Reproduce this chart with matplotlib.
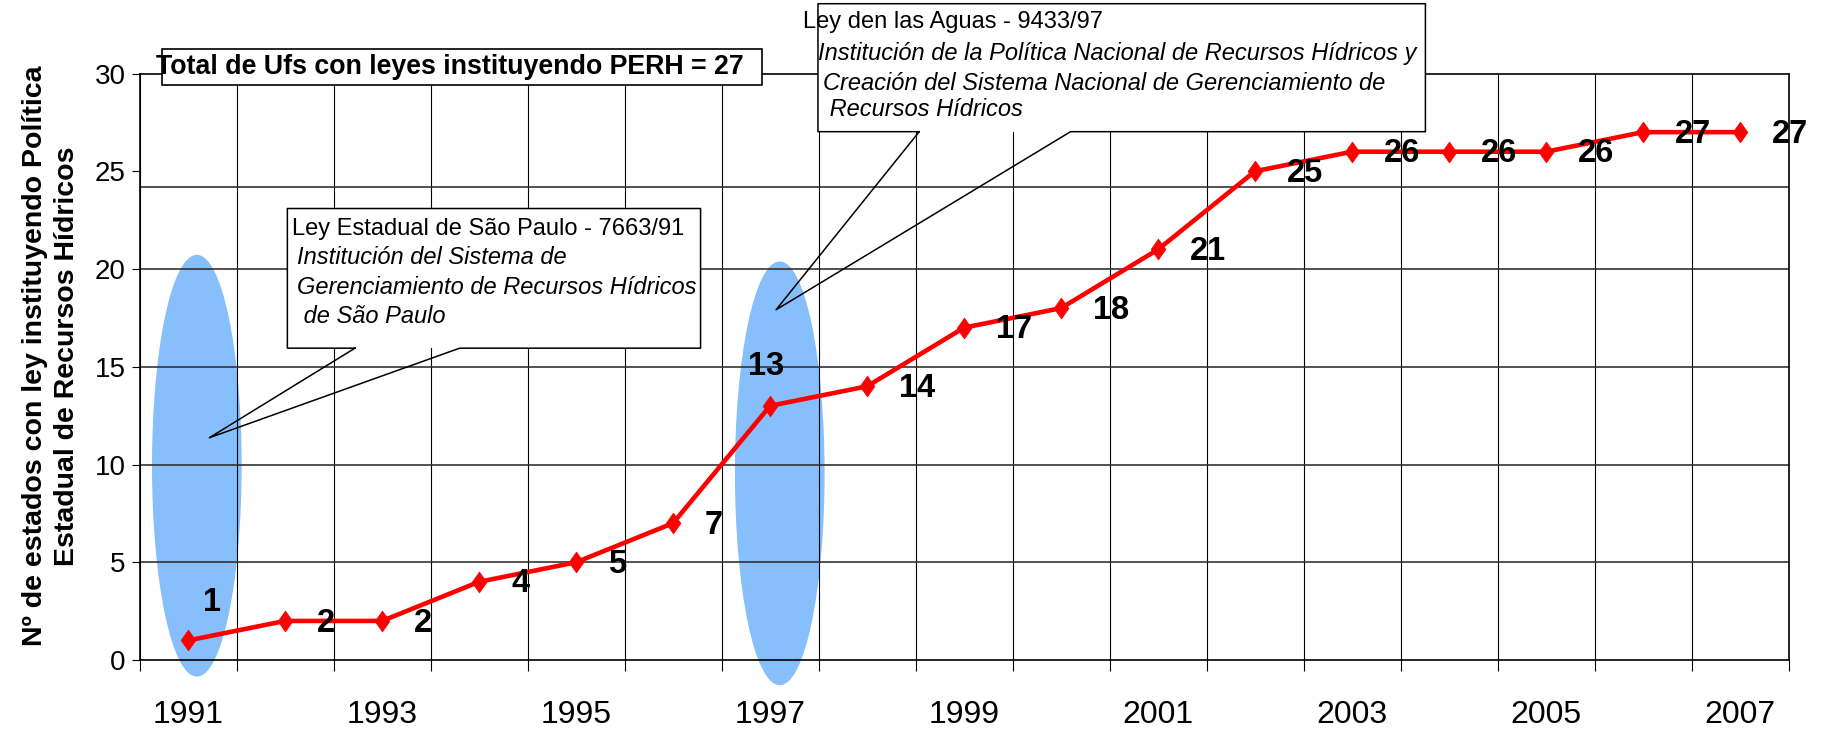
import numpy as np
import matplotlib
matplotlib.use("Agg")
import matplotlib.pyplot as plt
import matplotlib.transforms as mtransforms
from matplotlib.patches import Ellipse, Rectangle

plt.rcParams['font.family'] = ['Liberation Sans', 'DejaVu Sans']

# Data
years = list(range(1991, 2008))
states = [1, 2, 2, 4, 5, 7, 13, 14, 17, 18, 21, 25, 26, 26, 26, 27, 27]
tick_years = [str(y) if y % 2 == 1 else '' for y in years]
ylabel = 'Nº de estados con ley instituyendo Política\nEstadual de Recursos Hídricos'
title_box = 'Total de Ufs con leyes instituyendo PERH = 27'
sp_head = 'Ley Estadual de São Paulo - 7663/91'
sp_lines = ['Institución del Sistema de', 'Gerenciamiento de Recursos Hídricos', ' de São Paulo']
ag_head = 'Ley den las Aguas - 9433/97'
ag_lines = ['Institución de la Política Nacional de Recursos Hídricos y',
            'Creación del Sistema Nacional de Gerenciamiento de',
            ' Recursos Hídricos']

fig = plt.figure(figsize=(18.25, 7.35), dpi=100)
ax = fig.add_axes([0.0765, 0.102, 0.9035, 0.798])

x = np.arange(len(years))
ax.set_xlim(-0.5, len(years) - 0.5)
ax.set_ylim(0, 30)

# grid drawn by hand
for e in np.arange(-0.5, len(years) + 0.5, 1):
    ax.axvline(e, color='black', lw=0.8, zorder=1)
for h in [5, 10, 15, 20, 24.2]:
    ax.axhline(h, color='#333333', lw=1.2, zorder=1)

# highlight ellipses
ax.add_patch(Ellipse((0.09, 9.94), 0.91, 21.5, color='#87BFFC', zorder=0.5, clip_on=False))
ax.add_patch(Ellipse((6.1, 9.55), 0.91, 21.6, color='#87BFFC', zorder=0.5, clip_on=False))

diamond = [(-0.71, 0), (0, 1), (0.71, 0), (0, -1), (-0.71, 0)]
ax.plot(x, states, color='red', lw=3.3, marker=diamond, ms=15, mew=0.5, zorder=4, clip_on=False)

for i, v in enumerate(states):
    off = (23, -1.5)
    if v == 1:
        off = (11, 27)
    elif v == 13:
        off = (-16, 28)
    ax.annotate(str(v), (x[i], v), textcoords='offset points', xytext=off,
                ha='left', va='center', fontsize=23.5, fontweight='bold', zorder=5)

ax.set_xticks(np.arange(-0.5, len(years) + 0.5, 1))
ax.set_xticklabels([])
ax.set_xticks(x, minor=True)
ax.set_xticklabels(tick_years, minor=True, fontsize=23)
shift = mtransforms.ScaledTranslation(6 / 100, 0, fig.dpi_scale_trans)
for lab in ax.get_xticklabels(minor=True):
    lab.set_transform(lab.get_transform() + shift)
ax.tick_params(axis='x', which='major', direction='out', length=8, width=0.8)
ax.tick_params(axis='x', which='minor', length=0, pad=29)
ax.set_yticks(range(0, 31, 5))
ax.tick_params(axis='y', direction='out', length=6, width=0.8, labelsize=20, pad=4)
for s in ax.spines.values():
    s.set_linewidth(1.2)

fig.text(0.028, 0.5156, ylabel, rotation=90, ha='center', va='center',
         fontsize=20.5, fontweight='bold', linespacing=1.3)

T = ax.transAxes

# total box
ax.add_patch(Rectangle((0.0134, 0.9802), 0.3642, 0.0615, transform=T, facecolor='white',
                       edgecolor='black', lw=1.2, zorder=6, clip_on=False))
ax.text(0.188, 1.011, title_box, transform=T, ha='center', va='center', fontsize=19.3,
        fontweight='bold', zorder=7)


def callout(x0, x1, y0, y1, b0, b1, tip, head, lines, hx, lx, ys):
    ax.add_patch(Rectangle((x0, y0), x1 - x0, y1 - y0, transform=T, facecolor='white',
                           edgecolor='none', zorder=6, clip_on=False))
    px = [b0, x0, x0, x1, x1, b1, tip[0], b0]
    py = [y0, y0, y1, y1, y0, y0, tip[1], y0]
    ax.plot(px, py, transform=T, color='black', lw=1.1, zorder=7, clip_on=False)
    ax.text(hx, ys[0], head, transform=T, ha='left', va='center', fontsize=17, zorder=8)
    for k, t in enumerate(lines):
        ax.text(lx[k], ys[k + 1], t, transform=T, ha='left', va='center', fontsize=17,
                style='italic', zorder=8)


callout(0.0896, 0.3402, 0.5317, 0.7698, 0.1306, 0.1941, (0.0423, 0.379),
        sp_head, sp_lines, 0.0924, [0.0953, 0.0953, 0.0953], [0.7341, 0.6865, 0.6349, 0.5853])
callout(0.4114, 0.7798, 0.9008, 1.119, 0.4728, 0.5646, (0.386, 0.5972),
        ag_head, ag_lines, 0.4023, [0.4114, 0.4143, 0.4143], [1.0873, 1.0337, 0.9821, 0.9385])

fig.savefig('out.png', dpi=100)
